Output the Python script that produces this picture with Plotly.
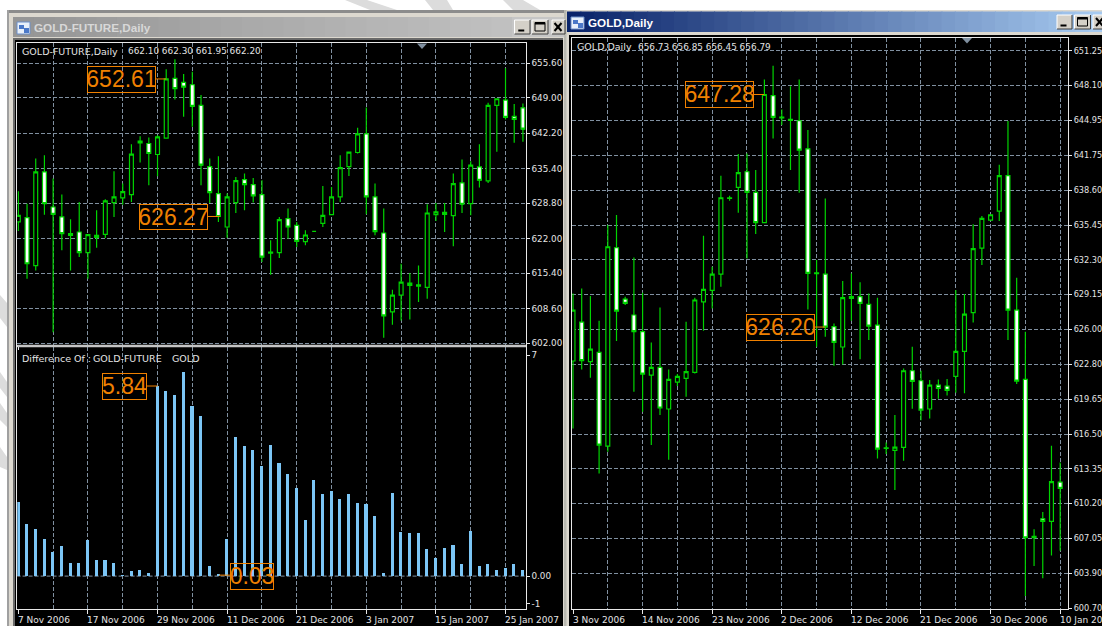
import plotly.graph_objects as go

W, H = 1102, 626

# ---- data ----
f_open = [625.22,626.05,616.84,634.81,628.09,626.18,622.98,623.30,619.33,622.27,622.85,628.93,629.82,630.46,640.38,640.25,638.14,641.27,652.72,651.95,651.50,647.54,635.83,630.65,624.26,628.93,633.34,632.38,630.46,619.46,619.33,625.86,624.58,621.44,623.43,624.96,626.62,630.01,635.83,638.52,642.10,630.01,623.11,608.01,611.21,613.51,612.94,612.68,626.62,627.07,626.43,632.70,628.73,635.77,633.08,647.54,648.56,645.43,647.09]
f_high = [631.10,628.73,637.37,638.01,633.53,630.46,625.73,629.05,622.79,627.46,629.57,634.94,632.57,640.12,641.65,641.40,641.85,654.45,656.37,653.55,654.00,649.52,637.37,637.82,630.65,633.85,634.49,633.66,633.21,621.70,626.18,627.78,625.22,623.62,623.43,632.12,631.93,638.01,638.58,643.25,647.15,632.57,627.78,612.23,617.22,615.43,616.90,628.61,628.86,628.86,634.49,637.18,636.86,640.12,648.05,648.88,654.64,647.79,647.92]
f_low = [623.49,614.34,615.94,626.62,604.11,619.78,615.94,618.50,614.34,620.29,622.15,626.18,628.54,629.05,636.60,632.25,633.98,641.27,648.69,645.36,643.45,632.25,628.86,625.22,622.21,626.94,627.46,628.93,617.54,615.11,618.31,622.02,620.42,620.74,623.43,624.26,626.50,629.05,634.04,638.33,626.69,622.66,603.02,605.52,606.35,606.54,609.87,610.51,625.41,623.30,620.55,626.94,626.50,631.80,632.70,638.65,644.85,640.38,640.57]
f_close = [626.50,617.22,634.81,628.73,626.69,622.98,622.66,619.33,622.79,622.66,629.25,630.01,631.04,638.20,640.70,638.33,641.53,652.61,650.74,651.06,647.35,636.09,630.85,626.27,630.01,633.15,632.38,630.21,618.50,619.27,625.66,624.26,621.51,622.72,623.43,626.50,630.01,635.64,638.58,642.10,630.01,623.36,607.24,611.21,613.70,613.06,613.19,626.94,627.14,626.69,632.57,628.61,636.09,633.21,647.54,648.82,645.24,644.85,643.00]

diff_values = [2.26,1.60,1.43,1.13,0.73,0.93,0.39,0.39,1.11,0.49,0.49,0.39,0.02,0.16,0.19,0.08,5.84,5.69,5.55,6.25,5.21,4.91,0.29,0.03,1.13,4.27,3.98,3.87,3.37,4.01,3.47,3.14,2.70,1.70,2.93,2.50,2.60,2.37,2.50,2.23,2.20,1.83,0.09,2.53,1.36,1.33,1.30,0.82,0.56,0.86,0.96,0.37,1.39,0.30,0.36,0.19,0.23,0.36,0.19]

g_open = [623.12,626.65,623.06,623.90,615.41,633.39,628.74,627.29,625.78,621.85,622.54,618.77,621.21,621.54,622.09,628.49,629.52,631.00,637.86,638.86,640.28,638.41,635.66,647.17,645.17,645.02,644.90,642.36,631.03,631.00,626.23,624.39,628.95,628.95,628.25,626.38,615.20,615.02,615.29,622.24,621.33,618.77,620.94,620.85,621.73,623.99,627.50,633.36,635.90,636.71,639.92,627.74,621.45,607.22,608.82,608.58,612.15]
g_high = [629.25,629.70,629.01,626.77,635.44,636.35,628.95,632.51,629.31,624.81,627.98,622.36,621.94,626.68,628.86,634.48,631.67,639.92,638.10,641.88,641.94,640.43,648.65,649.89,645.93,648.04,648.65,644.06,632.27,637.86,626.53,630.37,631.06,630.25,629.25,628.86,615.74,618.22,622.45,624.42,622.24,621.39,621.45,621.48,629.55,629.19,635.53,636.26,636.41,640.91,644.87,630.67,625.78,607.86,609.43,615.44,613.93]
g_low = [617.01,622.36,621.61,612.93,614.90,624.93,628.19,620.34,618.52,615.50,618.22,614.17,620.85,619.88,622.00,625.87,627.89,629.85,637.65,636.56,632.42,634.63,635.66,643.30,644.51,640.43,638.38,627.80,624.42,625.32,622.69,622.81,626.77,623.27,625.02,614.29,614.69,611.42,614.08,618.79,617.74,617.92,619.70,620.00,620.25,620.19,626.62,631.82,635.87,635.81,625.02,621.03,601.81,604.53,603.42,605.50,605.92]
g_close = [627.74,623.15,624.20,615.50,633.48,627.65,628.34,625.78,621.94,622.54,618.86,621.45,621.73,622.15,628.65,629.61,631.00,637.92,637.92,640.19,638.41,635.66,647.28,645.20,645.23,644.93,642.24,631.06,631.12,626.20,624.81,628.86,628.80,628.34,626.29,615.14,615.26,615.32,622.24,621.27,618.67,620.94,620.64,620.46,623.99,627.38,633.30,636.05,636.38,639.92,627.74,621.30,607.10,607.10,608.58,612.18,611.57]

f_yticks = [655.60,649.00,642.20,635.40,628.80,622.00,615.40,608.60,602.00]
g_yticks = [651.25,648.10,644.95,641.75,638.60,635.45,632.30,629.15,626.00,622.80,619.65,616.50,613.35,610.20,607.05,603.90,600.70]
f_dates = ["7 Nov 2006","17 Nov 2006","29 Nov 2006","11 Dec 2006","21 Dec 2006","3 Jan 2007","15 Jan 2007","25 Jan 2007"]
g_dates = ["3 Nov 2006","14 Nov 2006","23 Nov 2006","2 Dec 2006","12 Dec 2006","21 Dec 2006","30 Dec 2006","10 Jan 2007"]
date_index = [0,8,16,24,32,40,48,56]
grid_index = list(range(4,60,4))

# ---- styles ----
GREEN = "#00d400"
GRID = "#8090a0"
DASH = "4px,2px"
ORANGE = "#f08000"
TXT = "#e4e4e4"
BAR = "#7cc6f6"
FONT = "DejaVu Sans"

def xp(px): return px / W
def yp(py): return 1 - py / H

L = (17.3, 525.7)
R = (571.7, 1068.0)
fig = go.Figure()

def candles(o, h, l, c, xa, ya):
    fig.add_trace(go.Candlestick(
        x=list(range(len(o))), open=o, high=h, low=l, close=c, xaxis=xa, yaxis=ya,
        whiskerwidth=0, hoverinfo="skip",
        increasing=dict(line=dict(color=GREEN, width=1.2), fillcolor="#000000"),
        decreasing=dict(line=dict(color=GREEN, width=1.2), fillcolor="#ffffff"),
        showlegend=False))

candles(f_open, f_high, f_low, f_close, "x", "y")
fig.add_trace(go.Bar(x=list(range(len(diff_values))), y=diff_values, xaxis="x2", yaxis="y2",
                     width=0.36, marker=dict(color=BAR, line=dict(width=0)), hoverinfo="skip", showlegend=False))
candles(g_open, g_high, g_low, g_close, "x3", "y3")

def xaxis(rng, dom, anchor):
    return dict(range=rng, domain=dom, anchor=anchor, rangeslider=dict(visible=False),
                tickmode="array", tickvals=grid_index, showticklabels=False, ticks="",
                showgrid=True, gridcolor=GRID, griddash=DASH, gridwidth=1, zeroline=False,
                showline=True, mirror=True, linecolor="#e8e8e8", linewidth=1,
                minor=dict(tickmode="array", tickvals=date_index, ticks="outside", ticklen=4,
                           tickcolor="#e8e8e8", showgrid=False))

def yaxis(rng, dom, anchor, vals, text, grid=True, size=8.8, tlen=3):
    return dict(range=rng, domain=dom, anchor=anchor, side="right", tickmode="array",
                tickvals=vals, ticktext=text, ticks="outside", ticklen=tlen, tickcolor="#e8e8e8",
                tickfont=dict(family=FONT, size=size, color=TXT), showgrid=grid, gridcolor=GRID,
                griddash=DASH, gridwidth=1, zeroline=False, showline=True, mirror=True,
                linecolor="#e8e8e8", linewidth=1, automargin=False)

shapes, ann = [], []

def rect(x0, y0, x1, y1, fill, line=None, layer="below"):
    shapes.append(dict(type="rect", xref="paper", yref="paper", x0=xp(x0), x1=xp(x1), y0=yp(y0), y1=yp(y1),
                       fillcolor=fill, line=dict(width=1 if line else 0, color=line or fill), layer=layer))

def poly(pts, fill, layer="below"):
    path = "M " + " L ".join(f"{xp(a):.5f},{yp(b):.5f}" for a, b in pts) + " Z"
    shapes.append(dict(type="path", xref="paper", yref="paper", path=path, fillcolor=fill,
                       line=dict(width=0), layer=layer))

def seg(x0, y0, x1, y1, color, width=1, layer="above"):
    shapes.append(dict(type="line", xref="paper", yref="paper", x0=xp(x0), x1=xp(x1), y0=yp(y0), y1=yp(y1),
                       line=dict(color=color, width=width), layer=layer))

# watermark stripes behind the windows
WM = "#dcdcdc"
for a, b, c, d in [(345, 367, 370, 397), (425, 447, 433, 453), (503, 523, 513, 540)]:
    poly([(a, 0), (b, 0), (d, 10), (c, 10)], WM)
for a, b, c, d in [(295, 318, 303, 327), (372, 388, 382, 397), (403, 420, 413, 427), (447, 467, 457, 470)]:
    poly([(0, a), (0, b), (7, d), (7, c)], WM)

FRAME = "#dcd8cf"
# left window
rect(7, 10, 567, 626, FRAME)
rect(7, 10, 567, 13, "#8c8c8c")
rect(7, 10, 9, 626, "#a0a0a0")
n = 24
for i in range(n):
    a, b = 13 + (512 - 13) * i / n, 13 + (512 - 13) * (i + 1) / n + 1
    v = int(150 + 42 * i / (n - 1))
    rect(a, 17, b, 37, f"rgb({v},{v},{v})")
rect(512, 17, 566, 37, "#c6c6c6")
rect(13, 38, 563, 626, "#6a6a6a")
rect(15, 40, 563, 626, "#000000")
# right window
rect(564, 10, 1102, 626, FRAME)
rect(564, 10, 566.5, 626, "#b8b8b0")
n = 40
for i in range(n):
    a, b = 567 + (1102 - 567) * i / n, 567 + (1102 - 567) * (i + 1) / n + 1
    t = i / (n - 1)
    rect(a, 11.5, b, 32, f"rgb({int(10+156*t)},{int(36+166*t)},{int(106+134*t)})")
rect(569, 35, 1102, 626, "#000000")

# window icons and title buttons
for ix, iy in [(17, 22), (571, 17)]:
    rect(ix, iy, ix + 13, iy + 12, "#e8f0fa", "#6d8fc8")
    rect(ix + 2, iy + 3, ix + 7, iy + 7, "#4a78c8")
    rect(ix + 7, iy + 6, ix + 12, iy + 11, "#4a78c8")

def button(x0, y0, x1, y1, kind):
    rect(x0, y0, x1, y1, "#d4d0c8", None)
    seg(x0, y0, x1, y0, "#ffffff", 1)
    seg(x0, y0, x0, y1, "#ffffff", 1)
    seg(x1, y0, x1, y1, "#404040", 1)
    seg(x0, y1, x1, y1, "#404040", 1)
    m = (x0 + x1) / 2
    if kind == "min":
        seg(m - 4, y1 - 3.5, m + 2, y1 - 3.5, "#000000", 2)
    elif kind == "max":
        shapes.append(dict(type="rect", xref="paper", yref="paper", x0=xp(m - 5), x1=xp(m + 5), y0=yp(y1 - 3), y1=yp(y0 + 2.5),
                           line=dict(color="#000000", width=1)))
        seg(m - 5, y0 + 3.5, m + 5, y0 + 3.5, "#000000", 2)
    else:
        seg(m - 4, y0 + 3, m + 3, y1 - 3, "#000000", 2)
        seg(m + 3, y0 + 3, m - 4, y1 - 3, "#000000", 2)

button(514.5, 20, 530, 34, "min"); button(532, 20, 548, 34, "max"); button(552, 20, 565, 34, "close")
button(1057, 15, 1072, 29, "min"); button(1074.5, 15, 1090.5, 29, "max"); button(1093, 15, 1107, 29, "close")

# little chart-shift triangles
poly([(417, 43.5), (427, 43.5), (422, 49)], GRID, "above")
poly([(962, 38), (972, 38), (967, 43.5)], GRID, "above")

# divider between the two left panes
rect(17.3, 344.8, 526, 347.3, "#c4c4c4", None, "above")

# dashed zero line of the difference pane
shapes.append(dict(type="line", xref="x2", yref="y2", x0=-0.2, x1=58.4, y0=0, y1=0,
                   line=dict(color=GRID, width=1, dash=DASH), layer="below"))

def text(px, py, s, size=9, color=TXT, family=FONT, anchor="left", bold=False):
    ann.append(dict(xref="paper", yref="paper", x=xp(px), y=yp(py), text=f"<b>{s}</b>" if bold else s,
                    showarrow=False, xanchor=anchor, yanchor="middle", align="left",
                    font=dict(family=family, size=size, color=color), borderpad=0))

text(33, 27.5, "GOLD-FUTURE,Daily", 11.7, "#d8d8d8", "Liberation Sans", bold=True)
text(587, 22, "GOLD,Daily", 11.7, "#ffffff", "Liberation Sans", bold=True)
text(20.5, 51.5, "GOLD-FUTURE,Daily", 9.5)
text(127.3, 51.5, "662.10 662.30 661.95 662.20", 8.9)
text(20.5, 358, "Difference Of :", 9.5)
text(91.7, 358, "GOLD-FUTURE", 9.5)
text(171, 358, "GOLD", 9.5)
text(575.7, 46.5, "GOLD,Daily", 9.5)
text(637.3, 46.5, "656.73 656.85 656.45 656.79", 8.9)

def marker(x0, y0, x1, y1, s, ya, idx, val, from_right=True):
    ann.append(dict(xref="paper", yref="paper", x=xp((x0 + x1) / 2), y=yp((y0 + y1) / 2), text=s, showarrow=False,
                    xanchor="center", yanchor="middle", font=dict(family="Liberation Sans", size=23, color=ORANGE),
                    bordercolor=ORANGE, borderwidth=1, borderpad=0, width=x1 - x0 - 2, height=y1 - y0 - 2))
    shapes.append(dict(type="line", xref="paper", yref=ya, x0=xp(x1 if from_right else x0), x1=xp(idx),
                       y0=val, y1=val, line=dict(color=ORANGE, width=1), layer="above"))

marker(86.7, 65.7, 155.7, 92.3, "652.61", "y", 166.2, 652.61)
marker(139, 203.3, 208, 229.7, "626.27", "y", 219.7, 626.27)
marker(102, 372.7, 147, 399.3, "5.84", "y2", 157.7, 5.84)
marker(230.3, 563.3, 274.3, 590, "0.03", "y2", 219, 0.03, from_right=False)
marker(684.3, 81, 753.7, 107.7, "647.28", "y3", 764.3, 647.28)
marker(745.7, 314, 814.7, 340.7, "626.20", "y3", 825.3, 626.20)

# date labels start at their tick, so they are left-anchored
for xa, dates in [("x2", f_dates), ("x3", g_dates)]:
    for i, d in zip(date_index, dates):
        ann.append(dict(xref=xa, yref="paper", x=i, y=yp(620), text=d, showarrow=False, xanchor="left",
                        yanchor="middle", xshift=-2.5, font=dict(family=FONT, size=9, color=TXT)))

fig.update_layout(
    width=W, height=H, margin=dict(l=0, r=0, t=0, b=0, pad=0), autosize=False,
    paper_bgcolor="#ffffff", plot_bgcolor="rgba(0,0,0,0)", showlegend=False, boxgap=0.36, bargap=0,
    xaxis=xaxis([-0.118, 58.32], [xp(L[0]), xp(L[1])], "y"),
    yaxis=yaxis([601.75, 659.44], [yp(344.5), yp(43.3)], "x", f_yticks, [f"{v:.2f}" for v in f_yticks]),
    xaxis2=xaxis([-0.118, 58.32], [xp(L[0]), xp(L[1])], "y2"),
    yaxis2=yaxis([-1.02, 7.03], [yp(609.3), yp(347.3)], "x2", [6.79, 0, -0.84], ["7", "0.00", "-1"], grid=False),
    xaxis3=xaxis([-0.15, 56.9], [xp(R[0]), xp(R[1])], "y3"),
    yaxis3=yaxis([600.64, 652.43], [yp(609), yp(37.7)], "x3", g_yticks, [f"{v:.2f}" for v in g_yticks], size=8.2, tlen=3),
    shapes=shapes, annotations=ann,
)
fig.update_xaxes(minor_ticklen=4)
fig.write_html("out.html", config=dict(displayModeBar=False),
               post_script="document.body.style.margin='0';document.body.style.overflow='hidden';")
